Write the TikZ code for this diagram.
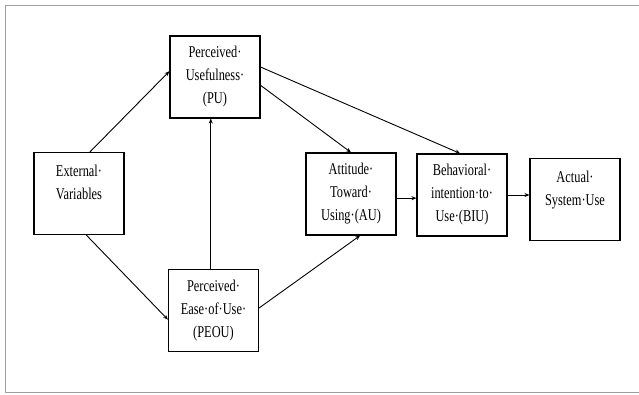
\documentclass[tikz,border=0pt]{standalone}
\usepackage{fontspec}
\setmainfont{Liberation Serif}[FakeStretch=0.75]
\usetikzlibrary{calc,arrows.meta}
\begin{document}
\begin{tikzpicture}[x=1pt,y=-1pt,
  box/.style={draw=black,line width=1.1pt,rectangle,minimum width=90pt,minimum height=82pt,
    inner sep=0pt,align=center,font=\fontsize{16.5}{23}\selectfont},
  arr/.style={draw=black,line width=0.9pt,-{Stealth[length=5pt,width=4pt]}}]
\useasboundingbox (0,0) rectangle (639,394);
\fill[white] (0,0) rectangle (639,394);
\draw[gray!75,line width=1pt] (639,5) -- (5,5) -- (5,392) -- (639,392);
\node[box] (ext) at (79,193.5) {External·\\Variables\\\mbox{}};
\node[box] (pu) at (215,77) {Perceived·\\Usefulness·\\(PU)};
\node[box] (peou) at (213.5,310.5) {Perceived·\\Ease·of·Use·\\(PEOU)};
\node[box] (au) at (351,194) {Attitude·\\Toward·\\Using·(AU)};
\node[box] (biu) at (462,195) {Behavioral·\\intention·to·\\Use·(BIU)};
\node[box] (asu) at (575,199.5) {Actual·\\System·Use\\\mbox{}};
\coordinate (a1s) at ($(ext.north west)!0.62!(ext.north east)$);
\coordinate (a1e) at ($(pu.north west)!0.43!(pu.south west)$);
\draw[arr] (a1s) -- (a1e);
\coordinate (a2s) at ($(ext.south west)!0.58!(ext.south east)$);
\coordinate (a2e) at ($(peou.north west)!0.61!(peou.south west)$);
\draw[arr] (a2s) -- (a2e);
\coordinate (a3s) at ($(peou.north west)!0.47!(peou.north east)$);
\draw[arr] (a3s) -- (a3s |- pu.south);
\coordinate (a4s) at ($(pu.north east)!0.6!(pu.south east)$);
\draw[arr] (a4s) -- (au.north);
\coordinate (a5s) at ($(pu.north east)!0.38!(pu.south east)$);
\coordinate (a5e) at ($(biu.north west)!0.48!(biu.north east)$);
\draw[arr] (a5s) -- (a5e);
\coordinate (a6s) at ($(peou.north east)!0.47!(peou.south east)$);
\coordinate (a6e) at ($(au.south west)!0.6!(au.south east)$);
\draw[arr] (a6s) -- (a6e);
\coordinate (a7s) at ($(au.north east)!0.55!(au.south east)$);
\draw[arr] (a7s) -- (a7s -| biu.west);
\coordinate (a8s) at ($(biu.north east)!0.5!(biu.south east)$);
\draw[arr] (a8s) -- (a8s -| asu.west);
\end{tikzpicture}
\end{document}
